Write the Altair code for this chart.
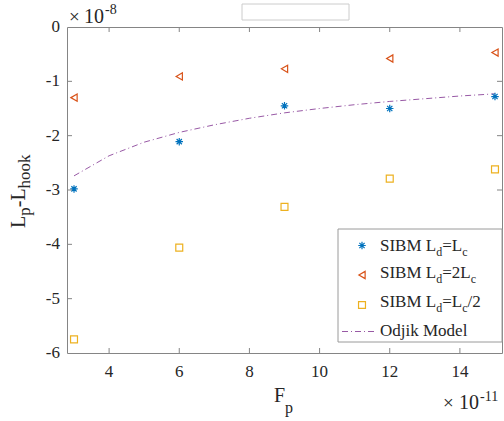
import altair as alt
import pandas as pd

# Pulling force F_p (x 1e-11) and extension difference L_p - L_hook (x 1e-8)
F_p = [3, 6, 9, 12, 15]
sibm_ld_lc = [-2.98, -2.11, -1.45, -1.50, -1.28]
sibm_ld_2lc = [-1.30, -0.91, -0.77, -0.58, -0.47]
sibm_ld_half_lc = [-5.75, -4.06, -3.31, -2.79, -2.62]

odijk_F = [3, 4, 5, 6, 7, 8, 9, 10, 11, 12, 13, 14, 15]
odijk_L = [-2.74, -2.37, -2.12, -1.94, -1.80, -1.68, -1.58, -1.50, -1.43,
           -1.37, -1.32, -1.27, -1.23]

series_names = ["SIBM Ld=Lc", "SIBM Ld=2Lc", "SIBM Ld=Lc/2"]
series_colors = ["#0072BD", "#D95319", "#EDB120"]
ASTERISK = "M-1,0L1,0M0,-1L0,1M-0.7,-0.7L0.7,0.7M-0.7,0.7L0.7,-0.7"
series_shapes = [ASTERISK, "triangle-left", "square"]
series_sizes = [56, 48, 32]

x_ticks = [4, 6, 8, 10, 12, 14]
y_ticks = [0, -1, -2, -3, -4, -5, -6]
x_tick_labels = ["4", "6", "8", "10", "12", "14"]
y_tick_labels = ["0", "-1", "-2", "-3", "-4", "-5", "-6"]

W, H = 435, 326
FONT = "Liberation Serif"
AXIS_GREY = "#858585"
TEXT = "#262626"

xs = alt.Scale(domain=[2.8, 15.2], nice=False, zero=False)
ys = alt.Scale(domain=[-6, 0], nice=False, zero=False)

points = pd.DataFrame({
    "F": F_p * 3,
    "L": sibm_ld_lc + sibm_ld_2lc + sibm_ld_half_lc,
    "series": [s for s in series_names for _ in F_p],
})
odijk = pd.DataFrame({"F": odijk_F, "L": odijk_L})

shape_enc = alt.Shape("series:N", scale=alt.Scale(domain=series_names, range=series_shapes), legend=None)
color_enc = alt.Color("series:N", scale=alt.Scale(domain=series_names, range=series_colors), legend=None)
size_enc = alt.Size("series:N", scale=alt.Scale(domain=series_names, range=series_sizes), legend=None)

# Data layers
odijk_line = alt.Chart(odijk).mark_line(
    color="#7E2F8E", strokeWidth=1, strokeDash=[6, 3, 1, 3], opacity=0.8
).encode(
    x=alt.X("F:Q", scale=xs, axis=None),
    y=alt.Y("L:Q", scale=ys, axis=None),
)

scatter = alt.Chart(points).mark_point(filled=False, strokeWidth=1.2, opacity=1).encode(
    x=alt.X("F:Q", scale=xs, axis=None),
    y=alt.Y("L:Q", scale=ys, axis=None),
    shape=shape_enc, color=color_enc, size=size_enc,
)

# Inward tick marks on all four sides of the box
xt = pd.DataFrame({"v": x_ticks, "lab": x_tick_labels})
yt = pd.DataFrame({"v": y_ticks, "lab": y_tick_labels})
yt_inner = yt[(yt.v < 0) & (yt.v > -6)]
tick_bottom = alt.Chart(xt).mark_rule(color=AXIS_GREY).encode(
    x=alt.X("v:Q", scale=xs, axis=None), y=alt.value(H), y2=alt.value(H - 5))
tick_top = alt.Chart(xt).mark_rule(color=AXIS_GREY).encode(
    x=alt.X("v:Q", scale=xs, axis=None), y=alt.value(0), y2=alt.value(5))
tick_left = alt.Chart(yt_inner).mark_rule(color=AXIS_GREY).encode(
    y=alt.Y("v:Q", scale=ys, axis=None), x=alt.value(0), x2=alt.value(5))
tick_right = alt.Chart(yt_inner).mark_rule(color=AXIS_GREY).encode(
    y=alt.Y("v:Q", scale=ys, axis=None), x=alt.value(W), x2=alt.value(W - 5))

# Tick labels
x_labels = alt.Chart(xt).mark_text(font=FONT, fontSize=17, color=TEXT, baseline="alphabetic").encode(
    x=alt.X("v:Q", scale=xs, axis=None), y=alt.value(H + 24), text="lab:N")
y_labels = alt.Chart(yt).mark_text(font=FONT, fontSize=17, color=TEXT, align="right",
                                   baseline="middle").encode(
    y=alt.Y("v:Q", scale=ys, axis=None), x=alt.value(-7), text="lab:N")

one = pd.DataFrame({"k": [0]})

# Empty title box above the axes
title_box = alt.Chart(one).mark_rect(fill="white", stroke="#cccccc", strokeWidth=1).encode(
    x=alt.value(175), x2=alt.value(282), y=alt.value(-23), y2=alt.value(-7))

# Legend frame, symbols and line sample
legend_box = alt.Chart(one).mark_rect(fill="white", stroke="#9a9a9a", strokeWidth=1).encode(
    x=alt.value(271), x2=alt.value(W), y=alt.value(202), y2=alt.value(315))
legend_sym = alt.Chart(pd.DataFrame({
    "series": series_names, "px": [295, 295, 295], "py": [218.5, 248, 278]
})).mark_point(filled=False, strokeWidth=1.2, opacity=1).encode(
    x=alt.X("px:Q", scale=None, axis=None),
    y=alt.Y("py:Q", scale=None, axis=None),
    shape=shape_enc, color=color_enc, size=size_enc,
)
legend_line = alt.Chart(one).mark_rule(
    color="#7E2F8E", strokeWidth=1, strokeDash=[6, 3, 1, 3], opacity=0.8
).encode(x=alt.value(275), x2=alt.value(310), y=alt.value(304.5))

# Text runs with sub/superscripts, laid out with Times advance widths
ADV = {"S": .556, "I": .333, "B": .667, "M": .889, " ": .25, "L": .611, "d": .5,
       "=": .564, "c": .444, "2": .5, "/": .278, "O": .722, "j": .278, "i": .278,
       "k": .5, "o": .5, "e": .444, "l": .278, "p": .5, "-": .333, "h": .5,
       "F": .556, "1": .5, "0": .5, "8": .5}


def run(pieces, x0, y0, angle=0):
    rows, adv = [], 0.0
    for text, fs, shift in pieces:
        if angle == 0:
            rows.append(dict(text=text, px=x0 + adv, py=y0 + shift, size=fs, angle=0))
        else:
            rows.append(dict(text=text, px=x0 + shift, py=y0 - adv, size=fs, angle=270))
        adv += sum(ADV.get(ch, 0.5) for ch in text) * fs
    return rows


rows = []
rows += run([("SIBM L", 17, 0), ("d", 12, 5), ("=L", 17, 0), ("c", 12, 5)], 313, 224)
rows += run([("SIBM L", 17, 0), ("d", 12, 5), ("=2L", 17, 0), ("c", 12, 5)], 313, 250.5)
rows += run([("SIBM L", 17, 0), ("d", 12, 5), ("=L", 17, 0), ("c", 12, 5), ("/2", 17, 0)], 313, 279.5)
rows += run([("Odjik Model", 17, 0)], 313, 308.5)
rows += run([("F", 20, 0), ("p", 16, 11)], 207, 375)
rows += run([("L", 20, 0), ("p", 17, 5), ("-L", 20, 0), ("hook", 17, 5)], -42, 201, angle=270)
# Exponent labels
rows += [dict(text="×", px=2, py=-4.5, size=19, angle=0),
         dict(text="10", px=17, py=-4.5, size=20, angle=0),
         dict(text="-8", px=38, py=-13, size=14, angle=0),
         dict(text="×", px=376, py=382, size=19, angle=0),
         dict(text="10", px=392, py=382, size=20, angle=0),
         dict(text="-11", px=413, py=374, size=14, angle=0)]

labels = alt.Chart(pd.DataFrame(rows)).mark_text(
    font=FONT, align="left", baseline="alphabetic", color=TEXT
).encode(
    x=alt.X("px:Q", scale=None, axis=None),
    y=alt.Y("py:Q", scale=None, axis=None),
    text="text:N",
    size=alt.Size("size:Q", scale=None, legend=None),
    angle=alt.Angle("angle:Q", scale=None, legend=None),
)

chart = alt.layer(
    odijk_line, scatter, tick_bottom, tick_top, tick_left, tick_right,
    x_labels, y_labels, title_box, legend_box, legend_sym, legend_line, labels,
).properties(
    width=W, height=H,
    autosize=alt.AutoSizeParams(type="none"),
    padding={"left": 67, "top": 27, "right": 2, "bottom": 68},
).configure(
    background="white", font=FONT
).configure_view(stroke=AXIS_GREY, strokeWidth=1)

chart.save("out.html", embed_options={"renderer": "svg", "actions": False})
